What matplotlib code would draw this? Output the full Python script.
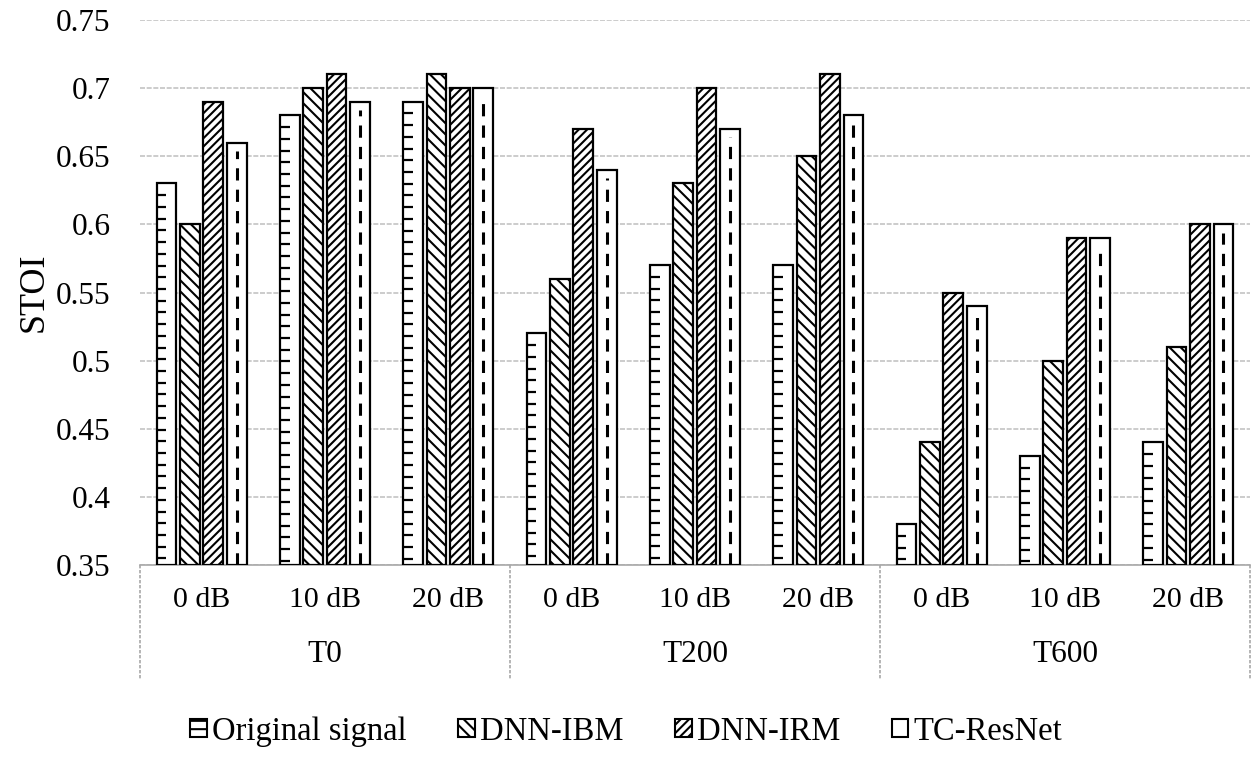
import numpy as np
import matplotlib.pyplot as plt
from matplotlib.patches import Patch
from matplotlib.transforms import blended_transform_factory

plt.rcParams['font.family'] = ['Liberation Serif', 'DejaVu Serif']
plt.rcParams['hatch.linewidth'] = 1.5

# data
snr_labels = ['0 dB', '10 dB', '20 dB'] * 3
groups = ['T0', 'T200', 'T600']
series = ['Original signal', 'DNN-IBM', 'DNN-IRM', 'TC-ResNet']
original = [0.63, 0.68, 0.69, 0.52, 0.57, 0.57, 0.38, 0.43, 0.44]
dnn_ibm = [0.60, 0.70, 0.71, 0.56, 0.63, 0.65, 0.44, 0.50, 0.51]
dnn_irm = [0.69, 0.71, 0.70, 0.67, 0.70, 0.71, 0.55, 0.59, 0.60]
tc_resnet = [0.66, 0.69, 0.70, 0.64, 0.67, 0.68, 0.54, 0.59, 0.60]
yticks = [0.35, 0.4, 0.45, 0.5, 0.55, 0.6, 0.65, 0.7, 0.75]

ymin = 0.35
fig = plt.figure(figsize=(12.6, 7.57), dpi=100)
ax = fig.add_axes([0.111, 0.2536, 0.881, 0.72])

x = np.arange(len(original))
w = 0.16
step = 0.19
values = [original, dnn_ibm, dnn_irm, tc_resnet]
hatches = ['', '\\\\\\', '////', '']
bars = []
for i, (vals, h) in enumerate(zip(values, hatches)):
    b = ax.bar(x + (i - 1.5) * step, np.array(vals) - ymin, w, bottom=ymin,
               color='white', edgecolor='black', linewidth=1.6, hatch=h, zorder=3)
    bars.append(b)

# ruler-like ticks on the original signal bars
tick_gap = 0.0086
for p in bars[0].patches:
    x0 = p.get_x()
    top = p.get_y() + p.get_height()
    ys = np.arange(top - tick_gap, ymin, -tick_gap)
    ax.hlines(ys, x0, x0 + p.get_width() * 0.5, color='black', lw=1.6, zorder=4)

# dashed centre line on TC-ResNet bars
for p in bars[3].patches:
    xc = p.get_x() + p.get_width() / 2
    top = p.get_y() + p.get_height()
    ax.vlines(xc, ymin, top - 0.006, color='black', lw=2.2,
              linestyles=[(0, (4, 3))], zorder=4)

ax.set_xlim(-0.5, len(x) - 0.5)
ax.set_ylim(0.35, 0.75)
ax.set_yticks(yticks)
ax.set_yticklabels(['0.35', '0.4', '0.45', '0.5', '0.55', '0.6', '0.65', '0.7', '0.75'])
ax.tick_params(axis='y', length=0, labelsize=22.5, pad=21)
ax.set_xticks([])
ax.yaxis.grid(True, color='#c4c4c4', lw=1.2, ls=(0, (3, 1)), zorder=0)
for s in ['left', 'right', 'top']:
    ax.spines[s].set_visible(False)
ax.spines['bottom'].set_color('#a8a8a8')
ax.spines['bottom'].set_linewidth(1.2)
ax.set_ylabel('STOI', fontsize=26, labelpad=4)

# two-level category axis
trans = blended_transform_factory(ax.transData, ax.transAxes)
for xi, lab in zip(x, snr_labels):
    ax.text(xi, -0.064, lab, transform=trans, ha='center', va='center', fontsize=21.5)
for gi, g in enumerate(groups):
    ax.text(gi * 3 + 1, -0.165, g, transform=trans, ha='center', va='center', fontsize=22.5)
for sx in [-0.5, 2.5, 5.5, 8.5]:
    ax.plot([sx, sx], [0, -0.211], transform=trans, color='#a8a8a8', lw=1.2,
            ls=(0, (2, 1)), clip_on=False)

handles = [Patch(facecolor='white', edgecolor='black', hatch='--', lw=1.5),
           Patch(facecolor='white', edgecolor='black', hatch='\\\\\\', lw=1.5),
           Patch(facecolor='white', edgecolor='black', hatch='////', lw=1.5),
           Patch(facecolor='white', edgecolor='black', hatch='|', lw=1.5)]
fig.legend(handles, series, loc='center', bbox_to_anchor=(0.497, 0.034), ncol=4,
           frameon=False, fontsize=23.5, handlelength=0.5, handleheight=0.5,
           handletextpad=0.15, columnspacing=1.6)

fig.savefig('out.png', dpi=100)
